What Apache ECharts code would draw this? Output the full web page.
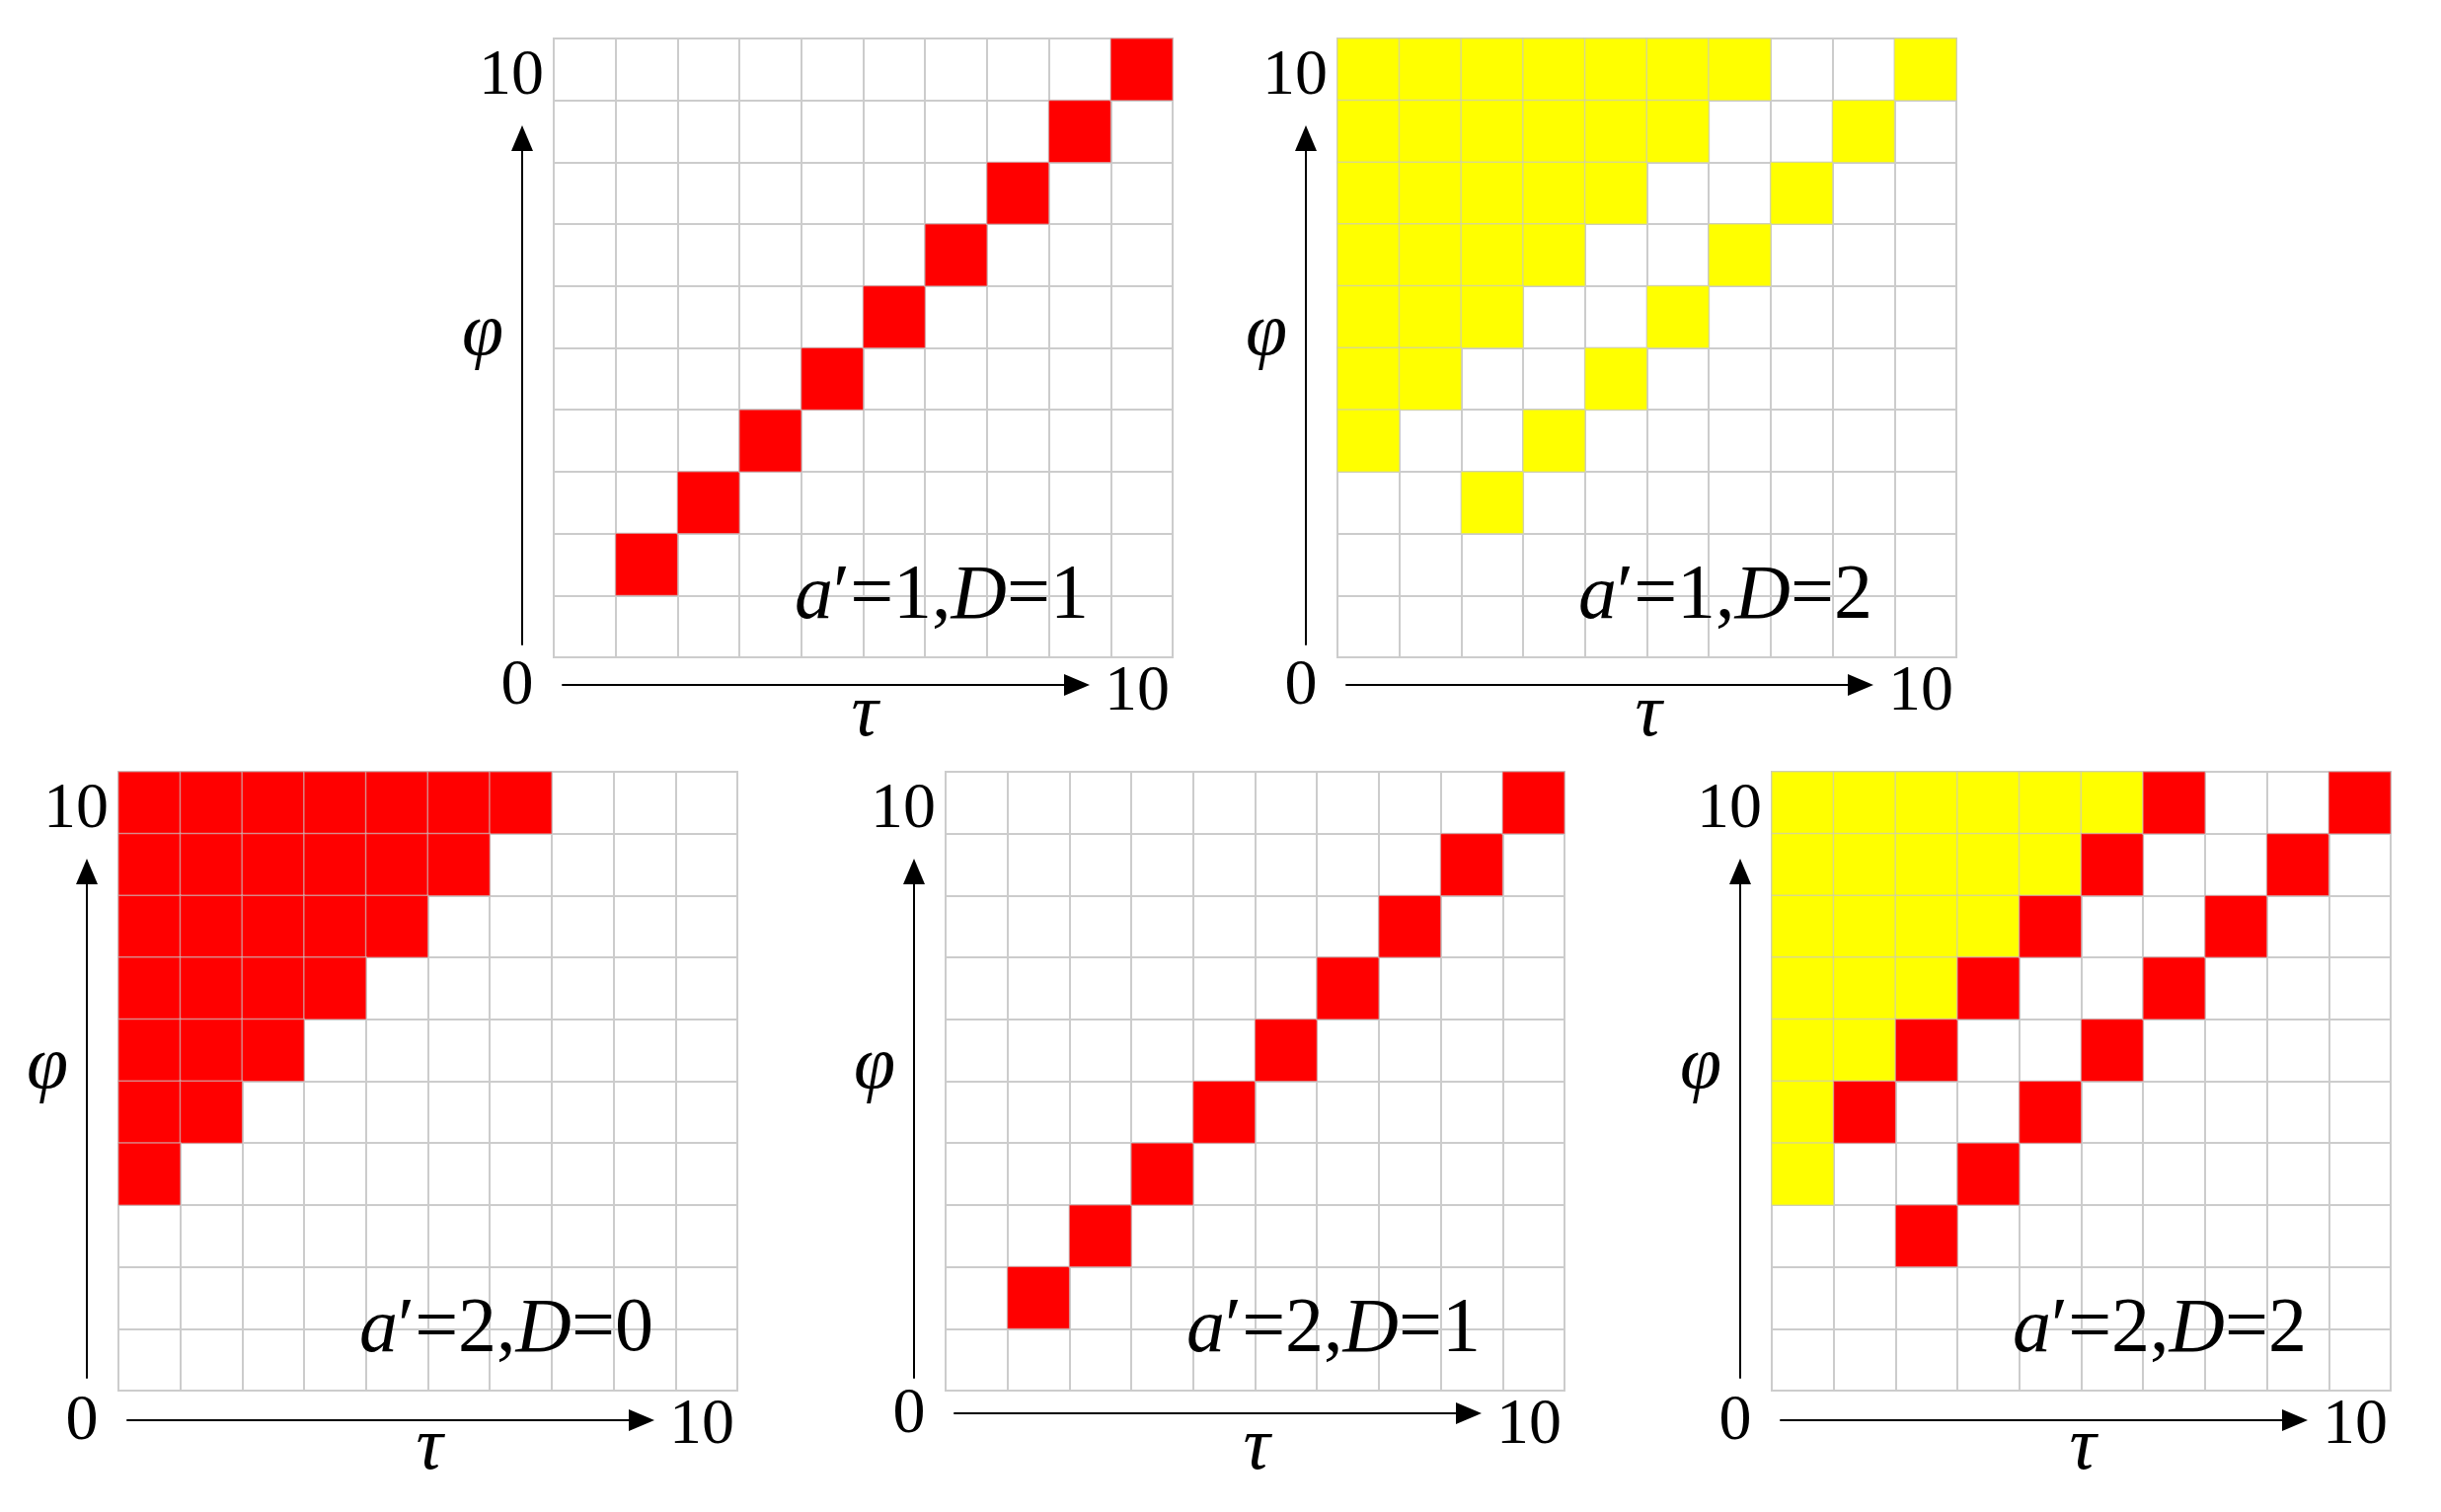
<!DOCTYPE html>
<html lang="en">
<head>
<meta charset="UTF-8">
<title>phi-tau grids</title>
<style>html,body{margin:0;padding:0;background:#fff;}</style>
</head>
<body>
<div id="main" style="width:2473px;height:1532px;"></div>
<script src="https://cdn.jsdelivr.net/npm/echarts@6/dist/echarts.min.js"></script>
<script>
// categories of both axes (cell index 0..9)
var tauCats = ['0','1','2','3','4','5','6','7','8','9'];
var phiCats = ['0','1','2','3','4','5','6','7','8','9'];
var axisEndLabels = ['0', '10'];

// panel captions: a', D
var aPrime = ['1', '1', '2', '2', '2'];
var dVals  = ['1', '2', '0', '1', '2'];

// cells as [tau, phi]
var red1 = [[1,1],[2,2],[3,3],[4,4],[5,5],[6,6],[7,7],[8,8],[9,9]];
var yellow2 = [
  [0,9],[1,9],[2,9],[3,9],[4,9],[5,9],[6,9],[9,9],
  [0,8],[1,8],[2,8],[3,8],[4,8],[5,8],[8,8],
  [0,7],[1,7],[2,7],[3,7],[4,7],[7,7],
  [0,6],[1,6],[2,6],[3,6],[6,6],
  [0,5],[1,5],[2,5],[5,5],
  [0,4],[1,4],[4,4],
  [0,3],[3,3],
  [2,2]
];
var red3 = [
  [0,9],[1,9],[2,9],[3,9],[4,9],[5,9],[6,9],
  [0,8],[1,8],[2,8],[3,8],[4,8],[5,8],
  [0,7],[1,7],[2,7],[3,7],[4,7],
  [0,6],[1,6],[2,6],[3,6],
  [0,5],[1,5],[2,5],
  [0,4],[1,4],
  [0,3]
];
var red4 = [[1,1],[2,2],[3,3],[4,4],[5,5],[6,6],[7,7],[8,8],[9,9]];
var yellow5 = [
  [0,9],[1,9],[2,9],[3,9],[4,9],[5,9],
  [0,8],[1,8],[2,8],[3,8],[4,8],
  [0,7],[1,7],[2,7],[3,7],
  [0,6],[1,6],[2,6],
  [0,5],[1,5],
  [0,4],
  [0,3]
];
var red5 = [[2,2],[3,3],[4,4],[5,5],[6,6],[7,7],[8,8],[9,9],
            [1,4],[2,5],[3,6],[4,7],[5,8],[6,9]];

var RED = 1, YELLOW = 2;
var panelCells = [
  [[red1, RED]],
  [[yellow2, YELLOW]],
  [[red3, RED]],
  [[red4, RED]],
  [[yellow5, YELLOW], [red5, RED]]
];

// layout (grid top-left corners, px)
var SIZE = 627;
var panelPos = [[561, 39], [1355, 39], [120, 782], [958, 782], [1795, 782]];
var xArrowY = [655, 655, 657, 650, 657];
var serif = '"Liberation Serif", serif';
var gridColor = '#cccccc';

var grids = [], xAxes = [], yAxes = [], series = [], texts = [];

function hiddenAxis(gi) {
  return {type: 'value', gridIndex: gi, min: 0, max: 1, show: false};
}
function arrowAxis(gi) {
  return {
    type: 'value', gridIndex: gi, min: 0, max: 1,
    axisLabel: {show: false}, axisTick: {show: false}, splitLine: {show: false},
    axisLine: {show: true, symbol: ['none', 'triangle'], symbolSize: [22, 26],
               lineStyle: {color: '#000', width: 2}}
  };
}
function txt(x, y, s, size, italic, align) {
  texts.push({
    type: 'text', x: x, y: y, z: 10,
    style: {
      text: s, fill: '#000', fontSize: size, fontFamily: serif,
      fontStyle: italic ? 'italic' : 'normal',
      align: align || 'center', textAlign: align || 'center',
      verticalAlign: 'middle', textVerticalAlign: 'middle'
    }
  });
}

panelPos.forEach(function (p, i) {
  var L = p[0], T = p[1];
  var g = i * 3;

  // cell grid
  grids.push({left: L, top: T, width: SIZE, height: SIZE, show: true,
              borderColor: gridColor, borderWidth: 2, backgroundColor: '#fff'});
  xAxes.push({type: 'category', gridIndex: g, data: tauCats,
    axisLine: {show: false}, axisTick: {show: false}, axisLabel: {show: false},
    splitLine: {show: true, lineStyle: {color: gridColor, width: 2}}});
  yAxes.push({type: 'category', gridIndex: g, data: phiCats,
    axisLine: {show: false}, axisTick: {show: false}, axisLabel: {show: false},
    splitLine: {show: true, lineStyle: {color: gridColor, width: 2}}});

  // vertical arrow
  grids.push({left: L - 32, top: T + 101, width: 20, height: 513});
  xAxes.push(hiddenAxis(g + 1));
  yAxes.push(arrowAxis(g + 1));

  // horizontal arrow
  var ay = xArrowY[i];
  grids.push({left: L + 9, top: T + ay - 20, width: 521, height: 20});
  xAxes.push(arrowAxis(g + 2));
  yAxes.push(hiddenAxis(g + 2));

  var data = [];
  panelCells[i].forEach(function (set) {
    set[0].forEach(function (c) { data.push([c[0], c[1], set[1]]); });
  });
  series.push({
    type: 'heatmap', xAxisIndex: g, yAxisIndex: g, data: data,
    itemStyle: {borderColor: 'rgba(200,200,200,0.6)', borderWidth: 1.5},
    emphasis: {disabled: true}
  });

  txt(L - 10, T + 39, axisEndLabels[1], 66, false, 'right');
  txt(L - 37, T + ay + 2, axisEndLabels[0], 66, false, 'center');
  txt(L + 624, T + 663, axisEndLabels[1], 66, false, 'right');
  txt(L - 72, T + 300, 'φ', 76, true, 'center');
  txt(L + 315, T + 686, 'τ', 76, true, 'center');

  texts.push({
    type: 'text', x: L + 393, y: T + 566, z: 10,
    style: {
      text: '{i|a}{n|′=' + aPrime[i] + ',}{i|D}{n|=' + dVals[i] + '}',
      align: 'center', textAlign: 'center',
      verticalAlign: 'middle', textVerticalAlign: 'middle',
      rich: {
        i: {fontSize: 78, fontFamily: serif, fontStyle: 'italic', fill: '#000', color: '#000'},
        n: {fontSize: 78, fontFamily: serif, fill: '#000', color: '#000'}
      }
    }
  });
});

var chart = echarts.init(document.getElementById('main'));
chart.setOption({
  backgroundColor: '#fff',
  animation: false,
  grid: grids,
  xAxis: xAxes,
  yAxis: yAxes,
  visualMap: {
    type: 'piecewise', show: false, dimension: 2,
    pieces: [{value: RED, color: '#ff0000'}, {value: YELLOW, color: '#ffff00'}]
  },
  series: series,
  graphic: texts
});
</script>
</body>
</html>
